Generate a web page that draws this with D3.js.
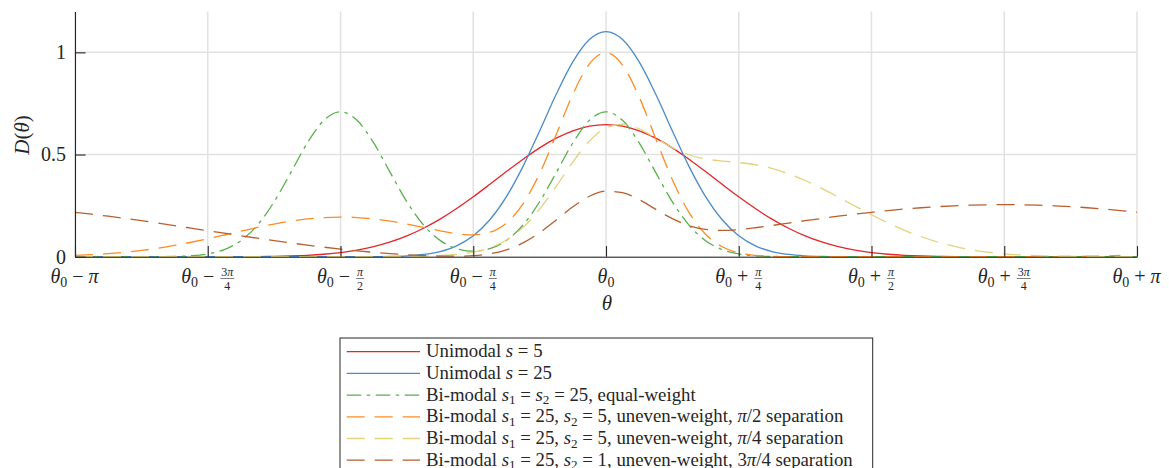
<!DOCTYPE html>
<html><head><meta charset="utf-8">
<script src="https://cdn.jsdelivr.net/npm/d3@7"></script>
<style>
body{margin:0;background:#fff;}
svg text{white-space:pre;}
</style></head><body>
<svg id="chart" width="1169" height="468" font-family="'Liberation Serif','DejaVu Serif',serif"></svg>
<script>
// ---------- DATA ----------
// sample positions, in units of pi/32 (theta - theta0)
const thetaIndex = [-32,-31,-30,-29,-28,-27,-26,-25,-24,-23,-22,-21,-20,-19,-18,-17,-16,-15,-14,-13,-12,-11,-10,-9,-8,-7,-6,-5,-4,-3,-2,-1,0,1,2,3,4,5,6,7,8,9,10,11,12,13,14,15,16,17,18,19,20,21,22,23,24,25,26,27,28,29,30,31,32];

const unimodal5 = [0,0,0,0,0,0,0,0,0,0.0001,0.0004,0.0008,0.0018,0.0036,0.0068,0.0121,0.0202,0.0323,0.0493,0.0723,0.1021,0.1394,0.1841,0.2357,0.2930,0.3541,0.4165,0.4771,0.5327,0.5800,0.6163,0.6390,0.6467,0.6390,0.6163,0.5800,0.5327,0.4771,0.4165,0.3541,0.2930,0.2357,0.1841,0.1394,0.1021,0.0723,0.0493,0.0323,0.0202,0.0121,0.0068,0.0036,0.0018,0.0008,0.0004,0.0001,0,0,0,0,0,0,0,0,0];

const unimodal25 = [0,0,0,0,0,0,0,0,0,0,0,0,0,0,0,0,0,0.0001,0.0005,0.0015,0.0043,0.0110,0.0254,0.0533,0.1024,0.1808,0.2942,0.4422,0.6156,0.7949,0.9532,1.0626,1.1017,1.0626,0.9532,0.7949,0.6156,0.4422,0.2942,0.1808,0.1024,0.0533,0.0254,0.0110,0.0043,0.0015,0.0005,0.0001,0,0,0,0,0,0,0,0,0,0,0,0,0,0,0,0,0];

const bimodalEqual = [0,0,0,0,0.0001,0.0003,0.0013,0.0046,0.0135,0.0349,0.0785,0.1548,0.2687,0.4113,0.5568,0.6673,0.7088,0.6673,0.5568,0.4113,0.2688,0.1551,0.0798,0.0395,0.0271,0.0395,0.0798,0.1551,0.2688,0.4113,0.5568,0.6673,0.7088,0.6673,0.5568,0.4113,0.2687,0.1548,0.0785,0.0349,0.0135,0.0046,0.0013,0.0003,0.0001,0,0,0,0,0,0,0,0,0,0,0,0,0,0,0,0,0,0,0,0];

const bimodalHalfPi = [0.0061,0.0097,0.0148,0.0217,0.0306,0.0418,0.0552,0.0707,0.0879,0.1062,0.1249,0.1431,0.1598,0.1740,0.1849,0.1917,0.1940,0.1917,0.1849,0.1740,0.1599,0.1436,0.1268,0.1126,0.1068,0.1195,0.1651,0.2585,0.4067,0.5976,0.7943,0.9439,0.9984,0.9378,0.7816,0.5770,0.3766,0.2170,0.1100,0.0489,0.0189,0.0064,0.0019,0.0005,0.0001,0,0,0,0,0,0,0,0,0,0,0,0,0.0001,0.0003,0.0005,0.0011,0.0021,0.0036,0.0061];

const bimodalQuarterPi = [0,0,0,0,0,0,0,0,0,0,0,0,0,0,0,0,0,0.0001,0.0003,0.0006,0.0013,0.0028,0.0056,0.0112,0.0223,0.0435,0.0816,0.1435,0.2327,0.3444,0.4630,0.5654,0.6304,0.6483,0.6256,0.5808,0.5341,0.4989,0.4785,0.4682,0.4608,0.4500,0.4322,0.4062,0.3729,0.3340,0.2915,0.2479,0.2051,0.1650,0.1289,0.0976,0.0715,0.0506,0.0345,0.0226,0.0142,0.0085,0.0048,0.0026,0.0013,0.0006,0.0003,0.0001,0];

const bimodalThreeQuarterPi = [0.2174,0.2081,0.1981,0.1873,0.1761,0.1643,0.1522,0.1398,0.1273,0.1149,0.1025,0.0904,0.0786,0.0673,0.0566,0.0466,0.0373,0.0289,0.0215,0.0150,0.0097,0.0056,0.0030,0.0024,0.0054,0.0146,0.0339,0.0674,0.1172,0.1795,0.2442,0.2958,0.3208,0.3135,0.2793,0.2318,0.1861,0.1523,0.1339,0.1289,0.1327,0.1416,0.1527,0.1644,0.1761,0.1873,0.1981,0.2081,0.2174,0.2257,0.2332,0.2396,0.2450,0.2492,0.2522,0.2540,0.2547,0.2540,0.2522,0.2492,0.2450,0.2396,0.2332,0.2257,0.2174];

const seriesNames = [
  "Unimodal $s = 5$",
  "Unimodal $s = 25$",
  "Bi-modal $s_1 = s_2 = 25$, equal-weight",
  "Bi-modal $s_1 = 25$, $s_2 = 5$, uneven-weight, $π/2$ separation",
  "Bi-modal $s_1 = 25$, $s_2 = 5$, uneven-weight, $π/4$ separation",
  "Bi-modal $s_1 = 25$, $s_2 = 1$, uneven-weight, $3π/4$ separation"
];
const seriesValues = [unimodal5, unimodal25, bimodalEqual, bimodalHalfPi, bimodalQuarterPi, bimodalThreeQuarterPi];
const seriesColors = ["#e2262b","#4a8bc7","#58b04a","#fd8c25","#e2d27c","#b95f2f"];
const seriesDash = [null, null, "14.5,5.5,3.5,5.5", "18,10", "18,10", "18,10"];

// x ticks in units of pi/4
const xTickMultiples = [-4,-3,-2,-1,0,1,2,3,4];
const xTickOps = ["−","−","−","−","","+","+","+","+"];
const xTickNum = ["π","3π","π","π","","π","π","3π","π"];
const xTickDen = ["","4","2","4","","4","2","4",""];
const yTickValues = [0, 0.5, 1];
const yTickLabels = ["0","0.5","1"];

// ---------- CHART ----------
const FONT = "'Liberation Serif','DejaVu Serif',serif";
const svg = d3.select("#chart");
const L = 75, R = 1137, T = 11.5, B = 256.7;
const x = d3.scaleLinear().domain([-Math.PI, Math.PI]).range([L, R]);
const y = d3.scaleLinear().domain([0, 1.2]).range([B, T]);
const xTickVals = xTickMultiples.map(k => k * Math.PI / 4);
const axisColor = "#262626";

// grid
const grid = svg.append("g");
grid.selectAll("line.gx").data(xTickVals).join("line")
  .attr("x1", d => x(d)).attr("x2", d => x(d)).attr("y1", y(0)).attr("y2", y(1.2))
  .attr("stroke", "#e2e2e2").attr("stroke-width", 1.5);
grid.selectAll("line.gy").data(yTickValues).join("line")
  .attr("x1", L).attr("x2", R).attr("y1", d => y(d)).attr("y2", d => y(d))
  .attr("stroke", "#e2e2e2").attr("stroke-width", 1.5);

// lines
const line = d3.line()
  .x((d, i) => x(thetaIndex[i] * Math.PI / 32))
  .y(d => y(d))
  .curve(d3.curveMonotoneX);
const linesG = svg.append("g");
seriesValues.forEach((vals, s) => {
  linesG.append("path").datum(vals)
    .attr("d", line)
    .attr("fill", "none")
    .attr("stroke", seriesColors[s])
    .attr("stroke-width", 1.3)
    .attr("stroke-dasharray", seriesDash[s]);
});

// axes
const xAxis = d3.axisBottom(x).tickValues(xTickVals).tickSizeInner(-10.6).tickSizeOuter(0).tickFormat("");
const gx = svg.append("g").attr("transform", `translate(0,${B})`).call(xAxis);
const yAxis = d3.axisLeft(y).tickValues(yTickValues).tickSizeInner(-10.6).tickSizeOuter(0).tickPadding(9)
  .tickFormat((d, i) => yTickLabels[i]);
const gy = svg.append("g").attr("transform", `translate(${L},0)`).call(yAxis);
[gx, gy].forEach(g => {
  g.attr("font-family", FONT);
  g.select(".domain").attr("stroke", axisColor).attr("stroke-width", 1.1);
  g.selectAll(".tick line").attr("stroke", axisColor).attr("stroke-width", 1.1);
});
gy.attr("font-size", 20);
gy.selectAll(".tick text").attr("fill", axisColor).attr("font-family", FONT);

// x tick labels (math with fractions)
const FS = 20;
xTickMultiples.forEach((k, i) => {
  const g = svg.append("g").attr("font-family", FONT).attr("fill", axisColor);
  const t = g.append("text").attr("y", 283).attr("font-size", FS);
  t.append("tspan").attr("font-style", "italic").text("θ");
  t.append("tspan").attr("font-size", 14).attr("dy", 4).text("0");
  t.append("tspan").attr("dy", -4).text(xTickOps[i] ? " " + xTickOps[i] + " " : "");
  if (xTickNum[i] && !xTickDen[i]) {
    t.append("tspan").attr("font-style", "italic").text(xTickNum[i]);
  }
  if (xTickDen[i]) {
    const w = t.node().getComputedTextLength();
    const fx = w + 1;
    const num = g.append("text").attr("y", 276.3).attr("font-size", 12);
    const n = xTickNum[i];
    if (n.length > 1) num.append("tspan").text(n.slice(0, n.length - 1));
    num.append("tspan").attr("font-style", "italic").text(n.slice(-1));
    const den = g.append("text").attr("y", 289.5).attr("font-size", 12).text(xTickDen[i]);
    const nw = num.node().getComputedTextLength();
    const dw = den.node().getComputedTextLength();
    const fw = Math.max(nw, dw) + 2;
    num.attr("x", fx + (fw - nw) / 2);
    den.attr("x", fx + (fw - dw) / 2);
    g.append("line").attr("x1", fx).attr("x2", fx + fw).attr("y1", 278.5).attr("y2", 278.5)
      .attr("stroke", axisColor).attr("stroke-width", 0.6);
  }
  const bb = g.node().getBBox();
  g.attr("transform", `translate(${x(xTickVals[i]) - (bb.x + bb.width / 2)},0)`);
});

// axis labels
svg.append("text").attr("x", 607).attr("y", 310).attr("font-size", 21).attr("fill", axisColor)
  .attr("text-anchor", "middle").attr("font-style", "italic").text("θ");
const yl = svg.append("text").attr("transform", "translate(29,135) rotate(-90)")
  .attr("font-size", 21).attr("text-anchor", "middle").attr("fill", axisColor);
yl.append("tspan").attr("font-style", "italic").text("D");
yl.append("tspan").text("(");
yl.append("tspan").attr("font-style", "italic").text("θ");
yl.append("tspan").text(")");

// math-ish text renderer for legend
function renderMath(textSel, str) {
  const parts = str.split("$");
  let pendingDy = 0;
  const add = (txt, italic, sub) => {
    const ts = textSel.append("tspan").text(txt);
    if (italic) ts.attr("font-style", "italic");
    if (sub) { ts.attr("font-size", "0.7em").attr("dy", 3.5 + pendingDy); pendingDy = -3.5; }
    else if (pendingDy) { ts.attr("dy", pendingDy); pendingDy = 0; }
  };
  parts.forEach((p, idx) => {
    if (idx % 2 === 0) { if (p) add(p, false, false); return; }
    for (let c = 0; c < p.length; c++) {
      const ch = p[c];
      if (ch === "_") { add(p[c + 1], false, true); c++; }
      else if (/[a-zA-Zπθ]/.test(ch)) add(ch, true, false);
      else add(ch, false, false);
    }
  });
}

// legend
const lg = svg.append("g");
lg.append("rect").attr("x", 340).attr("y", 338).attr("width", 532.7).attr("height", 150)
  .attr("fill", "#fff").attr("stroke", "#262626").attr("stroke-width", 1);
const rowY0 = 351.7, rowStep = 21.7;
seriesNames.forEach((name, s) => {
  const cy = rowY0 + s * rowStep;
  lg.append("line").attr("x1", 346.7).attr("x2", 420).attr("y1", cy).attr("y2", cy)
    .attr("stroke", seriesColors[s]).attr("stroke-width", 1.3)
    .attr("stroke-dasharray", seriesDash[s]);
  const t = lg.append("text").attr("x", 426).attr("y", cy + 5.6).attr("font-size", 18.8)
    .attr("fill", axisColor);
  renderMath(t, name);
});
</script>
</body></html>
